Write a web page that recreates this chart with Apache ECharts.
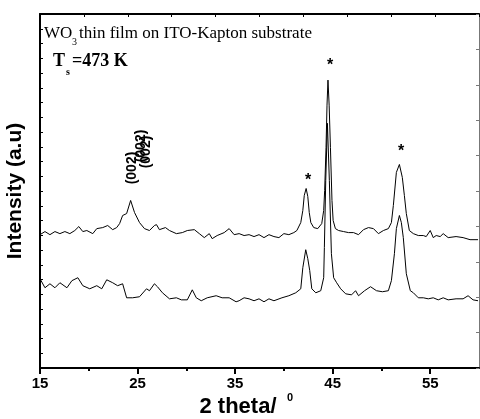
<!DOCTYPE html>
<html>
<head>
    <meta charset="utf-8">
    <title>WO3 thin film XRD</title>
    <script src="https://cdn.jsdelivr.net/npm/echarts@6/dist/echarts.min.js"></script>
    <style>
        html, body { margin: 0; padding: 0; background: #fff; }
    </style>
</head>
<body>
    <div id="main" style="width: 480px;height:419px;"></div>
    <script>
        // 2 theta (deg) and intensity (a.u.) of the upper trace
        var upperTheta = [15.00, 15.51, 16.02, 16.53, 17.04, 17.55, 18.06, 18.57, 18.98, 19.39, 19.80, 20.41, 20.82, 21.43, 21.94, 22.45, 22.86, 23.16, 23.47, 23.88,
            24.29, 24.69, 25.20, 25.71, 26.22, 26.73, 26.94, 27.24, 27.86, 28.27, 28.98, 29.59, 30.10, 30.82, 31.33, 31.84, 32.35, 32.65, 33.16, 33.88,
            34.39, 34.90, 35.41, 35.92, 36.43, 36.94, 37.45, 37.96, 38.47, 38.98, 39.49, 40.00, 40.51, 41.02, 41.33, 41.73, 41.94, 42.09, 42.28, 42.45,
            42.60, 42.76, 43.06, 43.47, 43.88, 44.08, 44.18, 44.32, 44.42, 44.52, 44.64, 44.77, 44.93, 45.05, 45.28, 45.61, 46.12, 46.63, 47.14, 47.65,
            48.16, 48.67, 49.18, 49.69, 50.20, 50.71, 51.02, 51.22, 51.53, 51.84, 52.14, 52.35, 52.55, 52.86, 53.27, 53.78, 54.29, 54.59, 55.00, 55.31,
            55.61, 56.02, 56.33, 56.84, 57.65, 58.37, 59.08, 59.90];
        var upperIntensity = [90.4, 92.5, 90.4, 92.5, 91.1, 92.5, 91.1, 93.2, 95.9, 92.5, 93.2, 91.1, 94.5, 95.2, 96.6, 93.8, 95.2, 97.9, 103.4, 104.7,
            113.6, 105.4, 98.6, 94.5, 93.2, 96.6, 97.2, 93.8, 95.2, 93.2, 91.1, 91.8, 93.2, 93.8, 91.1, 88.4, 91.1, 87.7, 89.8, 91.8,
            94.5, 90.4, 91.1, 89.8, 90.4, 89.1, 90.4, 88.4, 90.4, 89.1, 88.4, 91.1, 90.4, 91.8, 93.2, 98.6, 106.8, 117.0, 121.7, 116.3,
            105.4, 98.6, 95.2, 94.5, 97.9, 106.8, 120.4, 149.6, 178.2, 195.2, 178.2, 149.6, 113.6, 100.0, 94.5, 93.2, 92.5, 91.8, 91.8, 90.4,
            93.8, 95.2, 94.5, 91.1, 93.2, 94.5, 98.6, 110.2, 132.6, 138.0, 129.2, 117.0, 104.7, 93.2, 91.1, 89.8, 89.8, 89.1, 93.2, 88.4,
            89.8, 89.1, 91.1, 88.4, 89.1, 88.4, 87.0, 87.0];

        // lower trace
        var lowerTheta = [15.00, 15.51, 16.02, 16.53, 17.04, 17.76, 18.27, 18.88, 19.39, 20.10, 20.82, 21.33, 21.84, 22.45, 22.96, 23.47, 23.88, 24.49, 25.20, 25.92,
            26.22, 26.73, 27.04, 27.55, 28.27, 28.98, 29.49, 30.10, 30.61, 31.02, 31.53, 32.14, 33.06, 33.67, 34.39, 35.10, 35.41, 35.92, 36.43, 36.94,
            37.45, 37.96, 38.47, 38.98, 39.80, 40.51, 41.22, 41.73, 41.94, 42.24, 42.45, 42.65, 42.86, 43.27, 43.78, 44.08, 44.15, 44.29, 44.46, 44.66,
            44.87, 45.10, 45.41, 45.82, 46.33, 46.94, 47.35, 47.65, 48.27, 48.88, 49.49, 50.10, 50.71, 51.02, 51.33, 51.53, 51.84, 52.04, 52.24, 52.55,
            52.96, 53.27, 53.78, 54.29, 54.80, 55.31, 55.82, 56.33, 56.84, 57.65, 58.37, 58.88, 59.39, 59.90];
        var lowerIntensity = [60.5, 54.4, 57.1, 54.4, 57.8, 54.4, 59.2, 61.2, 55.8, 53.7, 55.8, 53.7, 59.8, 57.8, 55.8, 57.1, 47.6, 47.6, 48.3, 53.7,
            52.4, 57.1, 55.1, 51.0, 46.9, 47.6, 46.2, 46.2, 53.0, 47.6, 45.6, 47.6, 49.0, 47.6, 47.6, 44.9, 45.6, 47.6, 46.9, 45.6,
            46.9, 44.9, 46.9, 45.6, 47.6, 49.0, 51.0, 53.7, 68.0, 80.2, 74.1, 66.0, 53.7, 51.0, 52.4, 61.2, 81.6, 127.2, 165.9, 127.2,
            77.5, 61.2, 57.8, 53.7, 50.3, 49.6, 52.4, 49.0, 52.4, 55.1, 52.4, 51.7, 52.4, 59.2, 77.5, 94.5, 103.4, 98.6, 88.4, 63.9,
            52.4, 51.0, 47.6, 47.6, 46.9, 47.6, 46.2, 47.6, 46.2, 46.9, 46.9, 49.0, 46.2, 45.6];

        var xLabelTicks = [15, 25, 35, 45, 55];
        var xMinorTicks = [20, 30, 40, 50];

        function pairs(xs, ys) {
            var out = [];
            for (var i = 0; i < xs.length; i++) out.push([xs[i], ys[i]]);
            return out;
        }

        var myChart = echarts.init(document.getElementById('main'), null, { renderer: 'canvas' });

        var sans = '"Liberation Sans", Arial, sans-serif';
        var serif = '"Liberation Serif", "Times New Roman", serif';

        var option = {
            animation: false,
            grid: { left: 40, top: 14, width: 439, height: 354 },
            xAxis: [
                {
                    type: 'value', min: 15, max: 60, position: 'bottom',
                    axisLine: { lineStyle: { color: '#000', width: 2 } },
                    axisTick: { customValues: xLabelTicks, length: 6, lineStyle: { color: '#000', width: 2 } },
                    axisLabel: { customValues: xLabelTicks, color: '#000', fontFamily: sans, fontWeight: 'bold', fontSize: 15, margin: 8 },
                    splitLine: { show: false }
                },
                {
                    // short unlabelled ticks between the labelled ones
                    type: 'value', min: 15, max: 60, position: 'bottom',
                    axisLine: { show: false },
                    axisTick: { customValues: xMinorTicks, length: 3, lineStyle: { color: '#000', width: 2 } },
                    axisLabel: { show: false },
                    splitLine: { show: false }
                },
                {
                    type: 'value', min: 0, max: 10, interval: 1, position: 'top',
                    axisLine: { lineStyle: { color: '#000', width: 2 } },
                    axisTick: { inside: true, length: 3, lineStyle: { color: '#000' } },
                    axisLabel: { show: false },
                    splitLine: { show: false }
                }
            ],
            yAxis: [
                {
                    type: 'value', min: 0, max: 240, interval: 10, position: 'left',
                    axisLine: { show: true, lineStyle: { color: '#000', width: 2 } },
                    axisTick: { show: true, inside: true, length: 3, lineStyle: { color: '#000' } },
                    axisLabel: { show: false },
                    splitLine: { show: false }
                },
                {
                    type: 'value', min: 0, max: 10, interval: 1, position: 'right',
                    axisLine: { show: true, lineStyle: { color: '#777', width: 1 } },
                    axisTick: { show: true, inside: true, length: 3, lineStyle: { color: '#777' } },
                    axisLabel: { show: false },
                    splitLine: { show: false }
                }
            ],
            series: [
                {
                    type: 'line', xAxisIndex: 0, yAxisIndex: 0, showSymbol: false, symbol: 'none',
                    lineStyle: { color: '#000', width: 1 },
                    data: pairs(upperTheta, upperIntensity)
                },
                {
                    type: 'line', xAxisIndex: 0, yAxisIndex: 0, showSymbol: false, symbol: 'none',
                    lineStyle: { color: '#000', width: 1 },
                    data: pairs(lowerTheta, lowerIntensity)
                }
            ],
            graphic: [
                // sample description
                { type: 'text', x: 44, y: 34, style: { text: 'WO', font: '17px ' + serif, fill: '#000', textVerticalAlign: 'middle' } },
                { type: 'text', x: 72, y: 42, style: { text: '3', font: '10px ' + serif, fill: '#000', textVerticalAlign: 'middle' } },
                { type: 'text', x: 79, y: 34, style: { text: 'thin film on ITO-Kapton substrate', font: '17px ' + serif, fill: '#000', textVerticalAlign: 'middle' } },
                { type: 'text', x: 53, y: 61, style: { text: 'T', font: 'bold 18px ' + serif, fill: '#000', textVerticalAlign: 'middle' } },
                { type: 'text', x: 66, y: 72, style: { text: 's', font: 'bold 10px ' + serif, fill: '#000', textVerticalAlign: 'middle' } },
                { type: 'text', x: 72, y: 61, style: { text: '=473 K', font: 'bold 18px ' + serif, fill: '#000', textVerticalAlign: 'middle' } },
                // peak labels
                { type: 'text', x: 132, y: 168, rotation: Math.PI / 2, style: { text: '(002)', font: 'bold 14px ' + sans, fill: '#000', textAlign: 'center', textVerticalAlign: 'middle' } },
                { type: 'text', x: 141, y: 146, rotation: Math.PI / 2, style: { text: '(002)', font: 'bold 14px ' + sans, fill: '#000', textAlign: 'center', textVerticalAlign: 'middle' } },
                { type: 'text', x: 146, y: 152, rotation: Math.PI / 2, style: { text: '(002)', font: 'bold 14px ' + sans, fill: '#000', textAlign: 'center', textVerticalAlign: 'middle' } },
                { type: 'text', x: 308, y: 181, style: { text: '*', font: 'bold 16px ' + sans, fill: '#000', textAlign: 'center', textVerticalAlign: 'middle' } },
                { type: 'text', x: 330, y: 66, style: { text: '*', font: 'bold 16px ' + sans, fill: '#000', textAlign: 'center', textVerticalAlign: 'middle' } },
                { type: 'text', x: 401, y: 152, style: { text: '*', font: 'bold 16px ' + sans, fill: '#000', textAlign: 'center', textVerticalAlign: 'middle' } },
                // axis titles
                { type: 'text', x: 15, y: 191, rotation: Math.PI / 2, style: { text: 'Intensity (a.u)', font: 'bold 21px ' + sans, fill: '#000', textAlign: 'center', textVerticalAlign: 'middle' } },
                { type: 'text', x: 238, y: 407, style: { text: '2 theta/', font: 'bold 22px ' + sans, fill: '#000', textAlign: 'center', textVerticalAlign: 'middle' } },
                { type: 'text', x: 287, y: 398, style: { text: '0', font: 'bold 11px ' + sans, fill: '#000', textVerticalAlign: 'middle' } }
            ]
        };

        myChart.setOption(option);
    </script>
</body>
</html>
